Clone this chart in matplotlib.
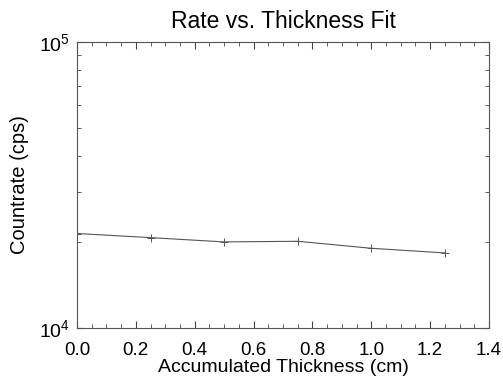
import matplotlib
matplotlib.use("Agg")
import matplotlib.pyplot as plt
from matplotlib.ticker import MultipleLocator, LogLocator, NullFormatter, FixedLocator, FixedFormatter

plt.rcParams['font.family'] = ['Liberation Sans', 'DejaVu Sans']
plt.rcParams['mathtext.fontset'] = 'custom'
plt.rcParams['mathtext.rm'] = 'Liberation Sans'
plt.rcParams['mathtext.default'] = 'regular'

thickness = [0.0, 0.25, 0.5, 0.75, 1.0, 1.25]
countrate = [2.14e4, 2.07e4, 2.00e4, 2.01e4, 1.90e4, 1.83e4]
x_ticks = [0.0, 0.2, 0.4, 0.6, 0.8, 1.0, 1.2, 1.4]
x_ticklabels = ['0.0', '0.2', '0.4', '0.6', '0.8', '1.0', '1.2', '1.4']
y_ticks = [1e4, 1e5]
y_ticklabels = [r'$10^{4}$', r'$10^{5}$']

fig = plt.figure(figsize=(5.03, 3.78), dpi=100)
ax = fig.add_axes([77/503, 1 - 328/378, (489-77)/503, (328-42)/378])

ax.plot(thickness, countrate, color='#555555', linewidth=0.8, marker='+', markersize=6, markeredgewidth=0.7)

ax.set_yscale('log')
ax.set_xlim(0.0, 1.4)
ax.set_ylim(1e4, 1e5)

ax.xaxis.set_major_locator(FixedLocator(x_ticks))
ax.xaxis.set_major_formatter(FixedFormatter(x_ticklabels))
ax.xaxis.set_minor_locator(MultipleLocator(0.05))
ax.yaxis.set_major_locator(FixedLocator(y_ticks))
ax.yaxis.set_major_formatter(FixedFormatter(y_ticklabels))
ax.yaxis.set_minor_locator(LogLocator(base=10, subs=range(2, 10)))
ax.yaxis.set_minor_formatter(NullFormatter())

ax.tick_params(which='both', direction='in', top=True, right=True, color='#444444')
ax.tick_params(axis='x', labelsize=13.5, pad=10)
ax.tick_params(axis='y', labelsize=14, pad=5)
ax.tick_params(which='major', length=5, width=0.8)
ax.tick_params(which='minor', length=3, width=0.6)

for s in ax.spines.values():
    s.set_color('#555555')
    s.set_linewidth(0.8)

ax.set_title('Rate vs. Thickness Fit', fontsize=16.5, pad=10)
ax.set_xlabel('Accumulated Thickness (cm)', fontsize=14, labelpad=0)
ax.set_ylabel('Countrate (cps)', fontsize=14.5, labelpad=7)

fig.savefig('out.png', dpi=100)
